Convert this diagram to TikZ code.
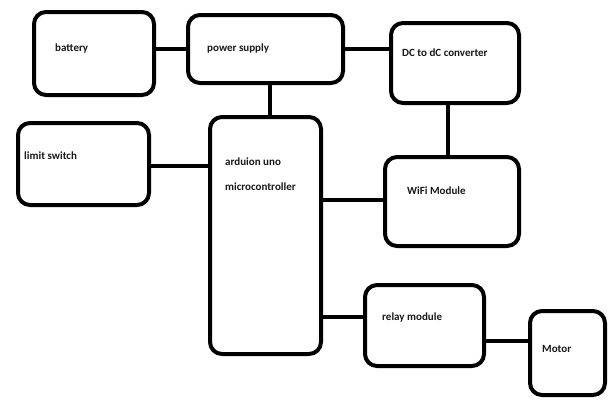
\documentclass[tikz,border=0pt]{standalone}
\usepackage{fontspec}
\setmainfont{Carlito}
\begin{document}
\begin{tikzpicture}[x=1pt,y=-1pt,
  blk/.style={draw=black,line width=4pt,rounded corners=12pt,inner sep=0pt},
  lbl/.style={anchor=west,inner sep=0pt,font=\fontsize{11}{13}\selectfont\bfseries,text=black!90},
  wire/.style={draw=black,line width=3.5pt}]
\useasboundingbox[fill=white] (0,0) rectangle (610,399);
% boxes
\node[blk,minimum width=120pt,minimum height=83pt] (bat) at (94,53.5) {};
\node[blk,minimum width=155pt,minimum height=68pt] (ps) at (265.5,49) {};
\node[blk,minimum width=128pt,minimum height=80pt] (dc) at (455,63) {};
\node[blk,minimum width=131pt,minimum height=82pt] (lim) at (83.5,164) {};
\node[blk,minimum width=111pt,minimum height=237pt] (ard) at (265.5,235.5) {};
\node[blk,minimum width=134pt,minimum height=89pt] (wifi) at (452,201.5) {};
\node[blk,minimum width=119pt,minimum height=81pt] (rel) at (424.5,325.5) {};
\node[blk,minimum width=75pt,minimum height=84pt] (mot) at (567.5,353) {};
% labels
\node[lbl] (tbat) at (55,49) {battery};
\node[lbl] (tps) at (207,49) {power supply};
\node[lbl] (tdc) at (402,53) {DC to dC converter};
\node[lbl] (tlim) at (24,156) {limit switch};
\node[lbl] (tard1) at (225,162) {arduion uno};
\node[lbl] (tard2) at (225,187) {microcontroller};
\node[lbl] (twifi) at (407,191) {WiFi Module};
\node[lbl] (trel) at (382,317) {relay module};
\node[lbl] (tmot) at (542,349) {Motor};
% connectors
\draw[wire] (bat.east |- ps.west) -- (ps.west);
\draw[wire] (ps.east) -- (ps.east -| dc.west);
\draw[wire] ([xshift=4.5pt]ps.south) -- ([xshift=4.5pt]ps.south |- ard.north);
\draw[wire] ([yshift=-2pt]lim.east) -- ([yshift=-2pt]lim.east -| ard.west);
\draw[wire] ([xshift=-7pt]dc.south) -- ([xshift=-7pt]dc.south |- wifi.north);
\draw[wire] ([yshift=1.5pt]wifi.west) -- ([yshift=1.5pt]wifi.west -| ard.east);
\draw[wire] ([yshift=8.5pt]rel.west) -- ([yshift=8.5pt]rel.west -| ard.east);
\draw[wire] ([yshift=-15.5pt]rel.east) -- ([yshift=-15.5pt]rel.east -| mot.west);
\end{tikzpicture}
\end{document}
